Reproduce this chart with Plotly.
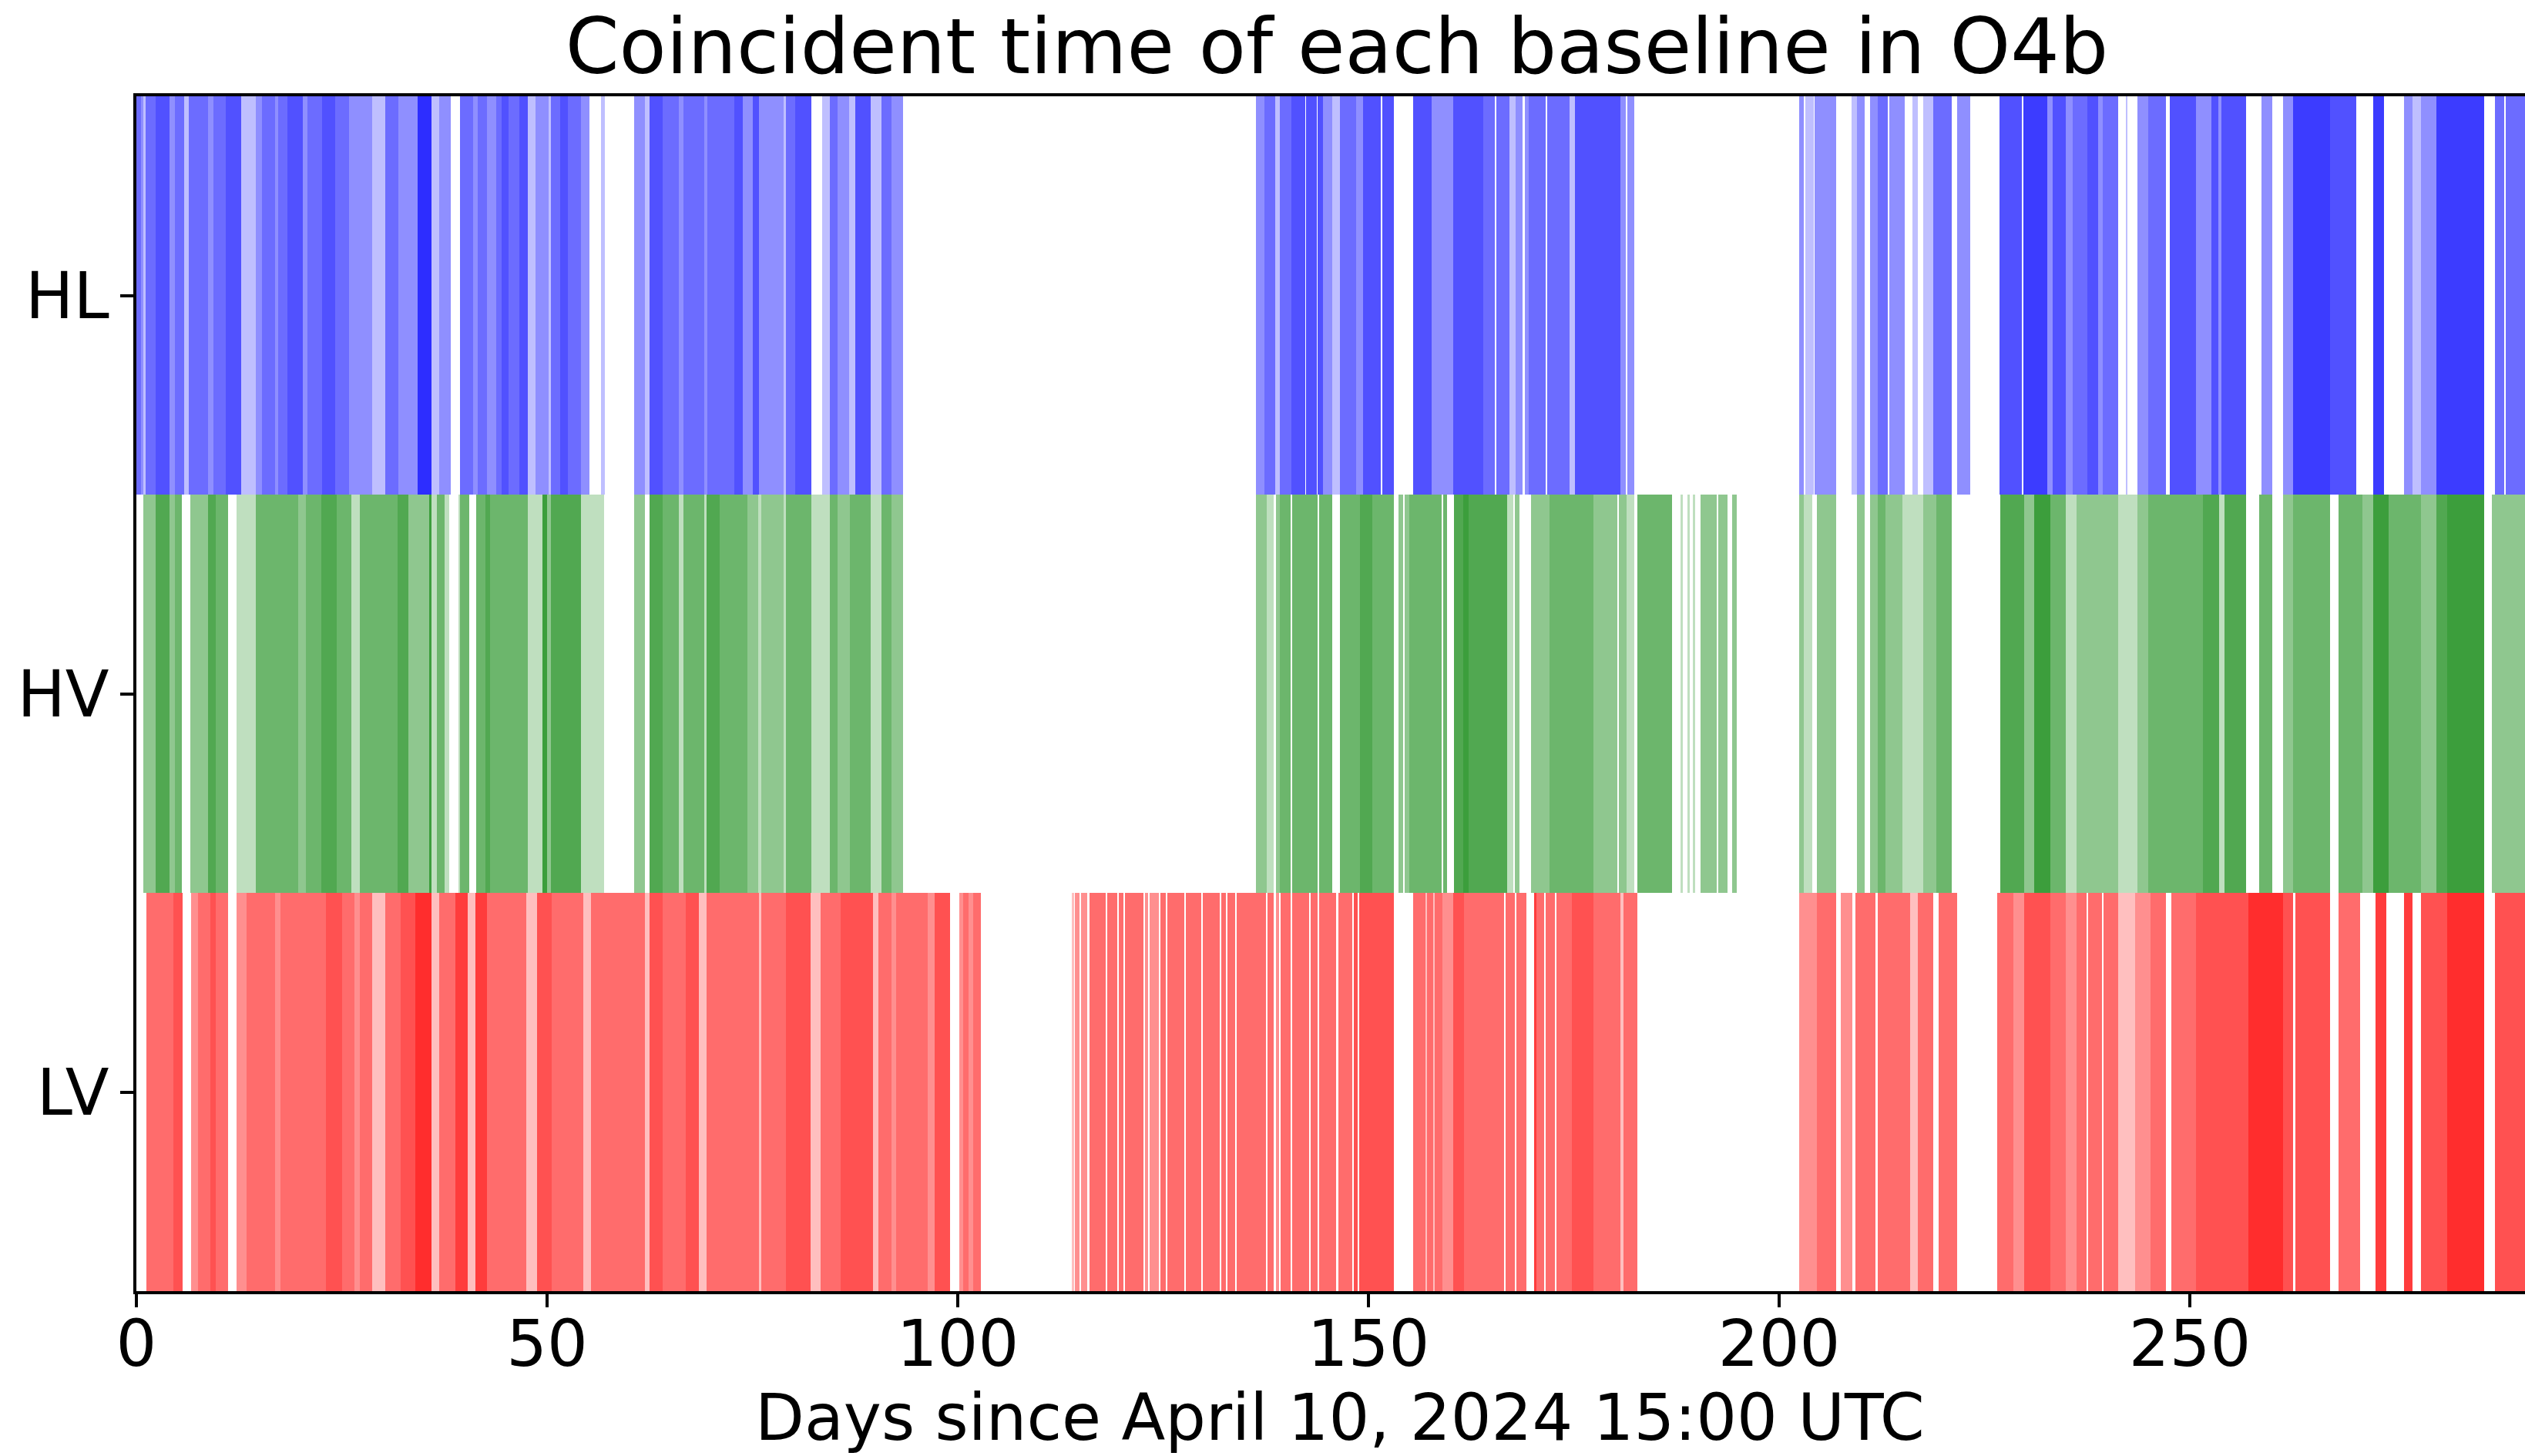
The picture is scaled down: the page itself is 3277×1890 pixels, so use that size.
import plotly.graph_objects as go

# Baselines, bottom to top on the category axis
BASELINES = ["LV", "HV", "HL"]
TICK_DAYS = [0, 50, 100, 150, 200, 250]

# Coincident segments per baseline: (start day, end day, overlap depth)
HL_SEGMENTS = [
    (0.0, 0.6, 3), (0.6, 0.85, 2), (0.85, 1.15, 1), (1.15, 2.3, 3), (2.3, 4.05, 4),
    (4.05, 4.7, 2), (4.7, 5.8, 3), (5.8, 6.4, 1), (6.4, 8.7, 3), (8.7, 9.4, 2),
    (9.4, 10.9, 3), (10.9, 12.8, 4), (12.8, 14.5, 1), (14.5, 15.3, 2), (15.3, 16.9, 3),
    (16.9, 17.3, 2), (17.3, 18.4, 3), (18.4, 20.3, 4), (20.3, 20.8, 2), (20.8, 22.6, 3),
    (22.6, 24.2, 4), (24.2, 25.9, 3), (25.9, 28.7, 2), (28.7, 30.3, 1), (30.3, 31.9, 3),
    (31.9, 34.2, 2), (34.2, 35.9, 6), (35.9, 36.9, 1), (36.9, 38.3, 2), (39.4, 41.0, 3),
    (41.0, 41.6, 2), (41.6, 42.7, 3), (42.7, 43.8, 2), (43.8, 44.5, 3), (44.5, 45.3, 4),
    (45.3, 46.6, 3), (46.6, 47.7, 4), (47.7, 48.6, 1), (48.6, 50.2, 2), (50.2, 50.5, 1),
    (50.5, 51.6, 3), (51.6, 52.5, 4), (52.5, 54.1, 3), (54.1, 55.2, 2), (56.6, 57.05, 1),
    (60.6, 61.9, 2), (61.9, 62.5, 1), (62.5, 64.1, 4), (64.1, 66.0, 3), (66.0, 66.6, 2),
    (66.6, 69.1, 3), (69.1, 69.5, 2), (69.5, 72.8, 3), (72.8, 73.8, 4), (73.8, 75.0, 2),
    (75.0, 75.8, 4), (75.8, 78.8, 2), (78.8, 79.1, 1), (79.1, 80.2, 3), (80.2, 82.2, 4),
    (83.5, 84.4, 1), (84.4, 85.4, 3), (85.4, 86.8, 2), (86.8, 87.5, 1), (87.5, 89.4, 4),
    (89.4, 90.7, 1), (90.7, 91.9, 3), (91.9, 93.3, 2),
    (136.3, 137.3, 2), (137.3, 138.6, 3), (138.6, 139.2, 1), (139.2, 140.6, 3),
    (140.6, 142.3, 4), (142.4, 143.7, 4), (143.8, 144.5, 4), (144.5, 145.6, 2),
    (145.6, 146.5, 1), (146.5, 148.5, 3), (148.5, 149.3, 2), (149.3, 151.5, 4),
    (151.7, 153.1, 4),
    (155.4, 157.7, 4), (157.7, 160.3, 2), (160.3, 164.0, 4), (164.0, 165.4, 3),
    (165.6, 167.2, 3), (167.2, 167.9, 1), (167.9, 168.8, 2), (169.0, 169.5, 2),
    (169.5, 171.6, 3), (171.8, 174.5, 3), (174.5, 175.1, 1), (175.1, 180.7, 4),
    (180.7, 181.3, 2), (181.5, 182.4, 2),
    (202.4, 203.0, 2), (203.15, 204.2, 1), (204.35, 206.9, 2),
    (208.8, 209.45, 1), (209.45, 210.4, 2), (211.1, 212.0, 2), (212.0, 213.2, 3),
    (213.4, 215.3, 2), (216.2, 216.9, 1), (217.5, 218.8, 1), (218.8, 221.0, 3),
    (221.7, 223.3, 2),
    (226.85, 229.5, 4), (229.7, 232.6, 5), (232.6, 233.3, 2), (233.3, 234.9, 4),
    (234.9, 235.7, 2), (235.7, 237.5, 3), (237.5, 238.8, 4), (238.8, 239.4, 2),
    (239.4, 241.3, 3), (242.2, 242.4, 1), (243.6, 244.9, 2), (244.9, 247.1, 3),
    (247.6, 250.7, 4), (250.7, 252.6, 2), (252.6, 253.5, 4), (253.5, 253.8, 2),
    (253.8, 256.8, 4), (258.7, 260.0, 2), (261.3, 262.6, 2), (262.6, 267.1, 5),
    (267.1, 270.3, 4), (272.3, 273.6, 5), (276.1, 277.1, 2), (277.1, 278.1, 1),
    (278.1, 280.0, 2), (280.0, 285.8, 5), (287.1, 288.3, 3), (288.5, 291.0, 3),
]

HV_SEGMENTS = [
    (0.8, 2.3, 2), (2.3, 4.05, 4), (4.05, 4.7, 2), (4.7, 5.5, 3), (6.6, 8.7, 2),
    (8.7, 9.7, 4), (9.7, 11.2, 3), (12.2, 14.5, 1), (14.5, 19.7, 3), (19.7, 20.6, 2),
    (20.6, 22.5, 3), (22.5, 24.4, 4), (24.4, 26.2, 3), (26.2, 27.2, 1), (27.2, 31.8, 3),
    (31.8, 33.1, 4), (33.1, 35.6, 2), (35.6, 35.9, 5), (35.9, 36.6, 1), (36.6, 37.5, 3),
    (37.5, 38.1, 1), (39.2, 39.4, 1), (39.4, 40.5, 3), (41.4, 42.5, 3), (42.5, 43.1, 4),
    (43.1, 47.7, 3), (47.7, 49.4, 1), (49.4, 50.0, 5), (50.0, 50.5, 2), (50.5, 54.1, 4),
    (54.1, 56.9, 1), (60.6, 61.9, 2), (62.5, 64.1, 4), (64.1, 66.0, 3), (66.0, 66.6, 1),
    (66.6, 69.1, 3), (69.1, 69.4, 1), (69.4, 71.0, 4), (71.0, 74.4, 3), (74.4, 75.7, 2),
    (75.7, 76.1, 1), (76.1, 78.8, 2), (78.8, 79.1, 1), (79.1, 82.2, 3), (82.2, 84.4, 1),
    (84.4, 85.4, 3), (85.4, 86.9, 2), (86.9, 89.4, 3), (89.4, 90.7, 1), (90.7, 91.9, 3),
    (91.9, 93.3, 2),
    (136.3, 137.6, 2), (137.6, 138.5, 1), (138.7, 139.2, 2), (139.2, 140.5, 3),
    (140.7, 143.8, 3), (144.0, 145.6, 3), (146.5, 149.0, 3), (149.0, 150.5, 4),
    (150.5, 153.1, 3), (153.7, 154.2, 2), (154.4, 155.0, 2), (155.0, 158.9, 3),
    (159.1, 159.6, 3), (160.4, 161.5, 4), (161.5, 162.2, 5), (162.2, 166.9, 4),
    (166.9, 167.6, 1), (167.8, 168.4, 2), (169.8, 172.0, 2), (172.0, 174.8, 3),
    (174.8, 177.4, 3), (177.4, 180.3, 2), (180.5, 181.4, 2), (181.4, 182.4, 1),
    (182.7, 187.0, 3), (188.0, 188.3, 1), (188.8, 189.1, 1), (189.5, 189.8, 1),
    (190.4, 192.4, 2), (192.6, 193.7, 2), (194.3, 194.8, 2),
    (202.4, 203.0, 2), (203.0, 204.0, 1), (204.6, 206.9, 2), (209.5, 210.4, 2),
    (211.1, 212.0, 2), (212.0, 212.9, 3), (212.9, 215.0, 2), (215.0, 216.2, 1),
    (216.2, 217.5, 1), (217.5, 219.1, 2), (219.1, 221.0, 3),
    (226.9, 229.8, 4), (229.8, 231.0, 2), (231.0, 233.0, 5), (233.0, 234.9, 3),
    (234.9, 236.2, 1), (236.2, 238.1, 2), (238.1, 241.3, 2), (241.3, 243.6, 1),
    (243.6, 244.9, 2), (244.9, 250.7, 3), (250.7, 251.6, 3), (251.6, 253.6, 4),
    (253.6, 254.2, 1), (254.2, 256.8, 4), (258.4, 260.0, 3), (261.3, 262.6, 2),
    (262.6, 267.1, 3), (268.1, 271.0, 3), (271.0, 272.3, 2), (272.3, 274.2, 5),
    (274.2, 278.1, 3), (278.1, 280.0, 2), (280.0, 281.3, 4), (281.3, 285.8, 5),
    (286.8, 291.0, 2),
]

LV_SEGMENTS = [
    (1.2, 4.5, 3), (4.5, 5.6, 4), (6.7, 7.5, 2), (7.5, 9.0, 3), (9.0, 9.7, 4),
    (9.7, 11.2, 3), (12.2, 13.4, 2), (13.4, 16.9, 3), (16.9, 17.5, 2), (17.5, 23.1, 3),
    (23.1, 25.0, 4), (25.0, 26.5, 3), (26.5, 27.2, 2), (27.2, 28.7, 3), (28.7, 30.3, 1),
    (30.3, 32.2, 3), (32.2, 34.0, 4), (34.0, 35.9, 6), (35.9, 36.9, 1), (36.9, 38.8, 3),
    (38.8, 40.3, 5), (40.3, 41.3, 1), (41.3, 42.7, 5), (42.7, 47.5, 3), (47.5, 48.8, 1),
    (48.8, 50.6, 4), (50.6, 54.4, 3), (54.4, 55.3, 1), (55.3, 61.9, 3), (61.9, 62.5, 1),
    (62.5, 64.1, 4), (64.1, 66.9, 3), (66.9, 68.5, 4), (68.5, 69.4, 1), (69.4, 75.8, 3),
    (75.8, 76.1, 1), (76.1, 79.1, 3), (79.1, 82.1, 4), (82.1, 83.3, 1), (83.3, 85.7, 3),
    (85.7, 89.7, 4), (89.7, 90.3, 1), (90.3, 91.9, 3), (91.9, 92.5, 2), (92.5, 96.3, 3),
    (96.3, 97.2, 2), (97.2, 99.1, 4), (100.2, 100.7, 2), (100.7, 101.3, 3),
    (101.3, 101.9, 2), (101.9, 102.85, 3),
    (113.9, 114.2, 1), (114.3, 114.8, 2), (115.0, 115.8, 2), (116.0, 118.0, 3),
    (118.2, 119.4, 3), (119.6, 120.2, 3), (120.4, 122.6, 3), (122.8, 123.2, 2),
    (123.4, 124.5, 2), (124.7, 125.3, 3), (125.5, 127.6, 3), (127.8, 129.6, 3),
    (129.8, 131.9, 3), (132.1, 132.6, 3), (132.8, 133.8, 3), (134.0, 137.5, 3),
    (137.7, 138.5, 3), (138.7, 139.1, 2), (139.3, 140.5, 3), (140.7, 142.8, 3),
    (143.0, 143.8, 3), (144.0, 146.1, 3), (146.3, 148.0, 3), (148.2, 148.7, 4),
    (148.9, 153.1, 4),
    (155.4, 156.9, 3), (156.9, 157.1, 1), (157.1, 157.9, 3), (157.9, 158.1, 1),
    (158.1, 159.0, 3), (159.0, 160.3, 2), (160.3, 161.6, 4), (161.6, 166.5, 3),
    (166.7, 167.8, 3), (168.0, 169.2, 3), (170.2, 170.4, 5), (170.4, 171.4, 3),
    (171.6, 172.7, 3), (172.9, 174.8, 3), (174.8, 177.4, 4), (177.4, 180.7, 3),
    (180.7, 181.0, 1), (181.0, 182.7, 3),
    (202.4, 204.6, 2), (204.6, 206.9, 3), (207.5, 208.9, 2), (209.3, 211.7, 3),
    (212.0, 215.9, 3), (215.9, 216.9, 1), (216.9, 218.8, 3), (219.4, 221.7, 3),
    (226.5, 228.5, 3), (228.5, 229.8, 2), (229.8, 233.0, 4), (233.0, 234.9, 3),
    (234.9, 236.2, 2), (236.2, 237.4, 3), (237.6, 239.3, 3), (239.5, 241.3, 3),
    (241.3, 243.3, 1), (243.3, 245.2, 2), (245.2, 247.1, 3), (247.7, 250.7, 3),
    (250.7, 253.6, 4), (253.6, 257.1, 4), (257.1, 261.3, 6), (261.3, 262.6, 4),
    (262.8, 267.1, 4), (268.1, 270.7, 3), (272.6, 273.9, 5), (276.1, 277.1, 5),
    (278.1, 281.3, 4), (281.3, 285.8, 6), (287.1, 291.0, 4),
]

SERIES = [("HL", HL_SEGMENTS, (0, 0, 255)),
          ("HV", HV_SEGMENTS, (0, 128, 0)),
          ("LV", LV_SEGMENTS, (255, 0, 0))]

# each stacked segment layer is drawn with this translucency
LAYER_ALPHA = 0.25

fig = go.Figure()
for name, segs, (r, g, b) in SERIES:
    starts = [s for s, e, d in segs]
    widths = [e - s for s, e, d in segs]
    colors = [f"rgba({r},{g},{b},{1 - (1 - LAYER_ALPHA) ** d:.3f})" for s, e, d in segs]
    fig.add_trace(go.Bar(
        orientation="h", y=[name] * len(segs), x=widths, base=starts, width=1.0,
        marker=dict(color=colors, line=dict(width=0)),
        showlegend=False, hoverinfo="skip",
    ))

L, R, T, B = 177, 0, 125, 214
W, H = 3277, 1890
plot_w = W - L - R
plot_h = H - T - B

fig.update_layout(
    width=W, height=H,
    margin=dict(l=L, r=R, t=T, b=B, pad=0),
    plot_bgcolor="white", paper_bgcolor="white",
    barmode="overlay", bargap=0,
    font=dict(family="DejaVu Sans", color="black", size=83),
    showlegend=False,
    title=dict(text="Coincident time of each baseline in O4b",
               font=dict(size=100, family="DejaVu Sans", color="black"),
               xref="paper", x=(1735 - L) / plot_w, xanchor="center",
               yref="container", y=1 - 60 / H, yanchor="middle"),
    annotations=[dict(text="Days since April 10, 2024 15:00 UTC",
                      xref="paper", yref="paper",
                      x=(1739 - L) / plot_w, xanchor="center",
                      y=-(1840 - (T + plot_h)) / plot_h, yanchor="middle",
                      showarrow=False, font=dict(size=83, family="DejaVu Sans", color="black"))],
)
fig.update_xaxes(
    range=[0, 290.8], tickvals=TICK_DAYS, ticks="outside", ticklen=17, tickwidth=3.5,
    tickcolor="black", showline=True, linecolor="black", linewidth=3.5, mirror=True,
    showgrid=False, zeroline=False, tickfont=dict(size=83), ticklabelstandoff=-23,
)
fig.update_yaxes(
    type="category", categoryorder="array", categoryarray=BASELINES, range=[-0.5, 2.5],
    ticks="outside", ticklen=17, tickwidth=3.5, tickcolor="black", showline=True,
    linecolor="black", linewidth=3.5, mirror=False, showgrid=False, zeroline=False,
    tickfont=dict(size=83), ticklabelstandoff=-2,
)

fig.write_html("out.html")
